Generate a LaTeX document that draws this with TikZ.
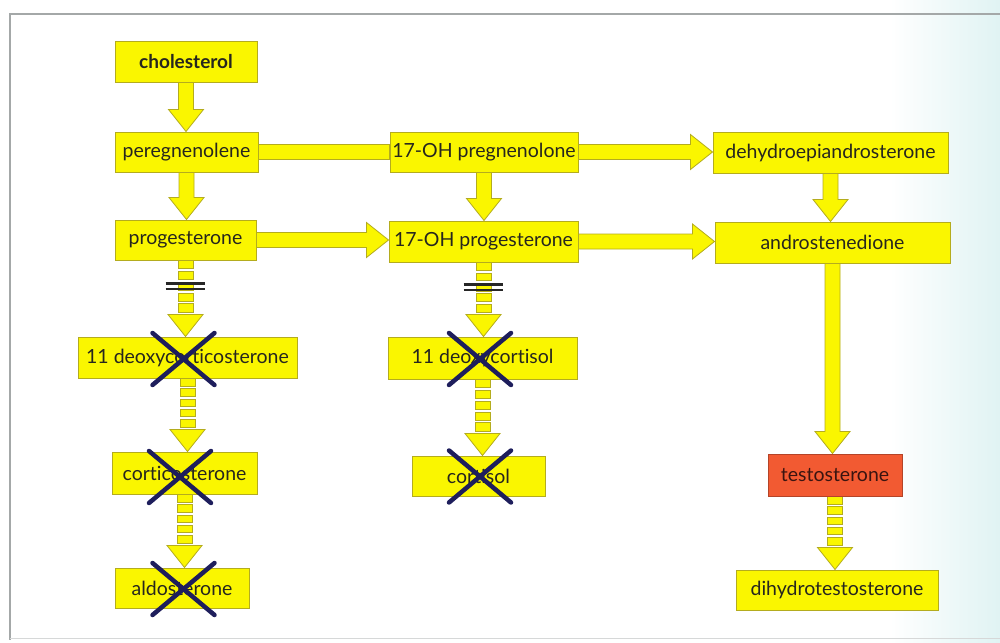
\documentclass[tikz,border=0pt]{standalone}
\usepackage{fontspec}
\setmainfont{Lato}[Ligatures=NoCommon]
\usetikzlibrary{calc}

\pgfdeclarelayer{paper}
\pgfdeclarelayer{links}
\pgfsetlayers{paper,links,main}

\definecolor{boxyellow}{HTML}{FAF600}
\definecolor{boxedge}{HTML}{B4AC1E}
\definecolor{hotfill}{HTML}{F25A32}
\definecolor{hotedge}{HTML}{B44428}
\definecolor{inkgray}{HTML}{26261E}
\definecolor{hotink}{HTML}{3A1410}
\definecolor{blockcross}{HTML}{1E1E5C}
\definecolor{framegray}{HTML}{A4A8A8}
\definecolor{tintcyan}{HTML}{E0F3F3}

% block-arrow geometry
\newcommand\shaftw{7.5pt}
\newcommand\headw{17.5pt}
\newcommand\headl{22pt}
\newcommand\seggap{2.5pt}

% solid block arrow pointing down, from #1 to #2
\newcommand\fatdown[2]{%
  \path[fatarrow] let \p1=(#1.south), \p2=(#2.north) in
    (\x1-\shaftw,\y1) -- (\x1-\shaftw,\y2+\headl) -- (\x1-\headw,\y2+\headl)
    -- (\x1,\y2) -- (\x1+\headw,\y2+\headl) -- (\x1+\shaftw,\y2+\headl)
    -- (\x1+\shaftw,\y1) -- cycle;}

% solid block arrow pointing right, from #1 to #2
\newcommand\fatright[2]{%
  \path[fatarrow] let \p1=(#1.east), \p2=(#2.west) in
    (\x1,\y1+\shaftw) -- (\x2-\headl,\y1+\shaftw) -- (\x2-\headl,\y1+\headw)
    -- (\x2,\y1) -- (\x2-\headl,\y1-\headw) -- (\x2-\headl,\y1-\shaftw)
    -- (\x1,\y1-\shaftw) -- cycle;}

% plain block shaft to the right, from #1 to #2
\newcommand\fatbar[2]{%
  \path[fatarrow] let \p1=(#1.east), \p2=(#2.west) in
    (\x1,\y1+\shaftw) rectangle (\x2,\y1-\shaftw);}

% segmented block arrow pointing down, #3 segments
\newcommand\segdown[3]{%
  \foreach \k in {1,...,#3}{%
    \path[fatarrow] let \p1=(#1.south), \p2=(#2.north),
      \n1={(\y1-(\y2)-\headl)/#3} in
      (\x1-\shaftw,{\y1-(\k-1)*\n1}) rectangle (\x1+\shaftw,{\y1-\k*\n1+\seggap});}
  \path[fatarrow] let \p1=(#1.south), \p2=(#2.north) in
    (\x1-\headw,\y2+\headl) -- (\x1,\y2) -- (\x1+\headw,\y2+\headl) -- cycle;}

% blocking cross centred on a coordinate
\newcommand\xout[1]{%
  \draw[nope] ($(#1)+(-31,-26)$) -- ($(#1)+(31,26)$)
              ($(#1)+(-31,26)$) -- ($(#1)+(31,-26)$);}

\begin{document}
\begin{tikzpicture}[x=1pt, y=-1pt,
  box/.style={draw=boxedge, fill=boxyellow, line width=1pt, text=inkgray,
    inner sep=0pt, minimum height=40pt,
    font=\fontsize{19.5}{22}\selectfont},
  hot/.style={box, draw=hotedge, fill=hotfill, text=hotink},
  fatarrow/.style={draw=boxedge, fill=boxyellow, line width=0.8pt, line join=miter},
  bar/.style={draw=black!85, line width=2.4pt},
  nope/.style={draw=blockcross, line width=4.5pt, line cap=round}]

\useasboundingbox (0,0) rectangle (1000,642);

% paper, tint and frame
\begin{pgfonlayer}{paper}
  \fill[white] (0,0) rectangle (1000,642);
  \shade[left color=white, right color=tintcyan] (890,0) rectangle (1000,642);
  \draw[framegray, line width=1.6pt] (1000,14) -- (10,14) -- (10,640);
  \draw[framegray!45, line width=1pt] (10,638) -- (1000,638);
\end{pgfonlayer}

% compounds
\node[box, minimum width=142pt, font=\fontsize{19}{22}\selectfont\bfseries] (chol) at (186,62) {cholesterol};
\node[box, minimum width=143pt] (preg)   at (186.5,152) {peregnenolene};
\node[box, minimum width=141pt] (prog)   at (185.5,240) {progesterone};
\node[box, minimum width=188pt] (ohpreg) at (484,152)   {17-OH pregnenolone};
\node[box, minimum width=189pt, minimum height=41pt] (ohprog) at (483.5,241.5) {17-OH progesterone};
\node[box, minimum width=235pt, minimum height=41pt] (dhea)   at (830.5,152.5) {dehydroepiandrosterone};
\node[box, minimum width=235pt, minimum height=41pt] (andro)  at (832.5,242.5) {androstenedione};
\node[box, minimum width=219pt, minimum height=41pt] (dcs)    at (187.5,357.5) {11 deoxycorticosterone};
\node[box, minimum width=145pt, minimum height=42pt] (cort)   at (184.5,473)   {corticosterone};
\node[box, minimum width=134pt] (aldo)   at (182,588)   {aldosterone};
\node[box, minimum width=189pt, minimum height=42pt] (dcol)   at (482.5,358)   {11 deoxycortisol};
\node[box, minimum width=133pt] (cortl)  at (478.5,476) {cortisol};
\node[hot, minimum width=134pt, minimum height=42pt] (testo)  at (835,475) {testosterone};
\node[box, minimum width=202pt] (dht)    at (837,590)   {dihydrotestosterone};

% conversions
\begin{pgfonlayer}{links}
  \fatdown{chol}{preg}
  \fatdown{preg}{prog}
  \fatbar{preg}{ohpreg}
  \fatright{prog}{ohprog}
  \fatright{ohpreg}{dhea}
  \fatright{ohprog}{andro}
  \fatdown{ohpreg}{ohprog}
  \fatdown{dhea}{andro}
  \fatdown{andro}{testo}
  \segdown{prog}{dcs}{5}
  \segdown{dcs}{cort}{5}
  \segdown{cort}{aldo}{5}
  \segdown{ohprog}{dcol}{5}
  \segdown{dcol}{cortl}{5}
  \segdown{testo}{dht}{5}
\end{pgfonlayer}

% enzyme blocks
\draw[bar] ($(prog.south)+(-20,23)$) -- ++(39,0);
\draw[bar] ($(prog.south)+(-20,28.5)$) -- ++(39,0);
\draw[bar] ($(ohprog.south)+(-20,22)$) -- ++(39,0);
\draw[bar] ($(ohprog.south)+(-20,27.5)$) -- ++(39,0);

% blocked products
\coordinate (k1) at ($(dcs.center)+(-4,1.5)$);
\coordinate (k2) at ($(cort.center)+(-4.5,4)$);
\coordinate (k3) at ($(aldo.center)+(1.5,1)$);
\coordinate (k4) at ($(dcol.center)+(-2.5,1)$);
\coordinate (k5) at ($(cortl.center)+(1.5,0.5)$);
\xout{k1}
\xout{k2}
\xout{k3}
\xout{k4}
\xout{k5}
\end{tikzpicture}
\end{document}
